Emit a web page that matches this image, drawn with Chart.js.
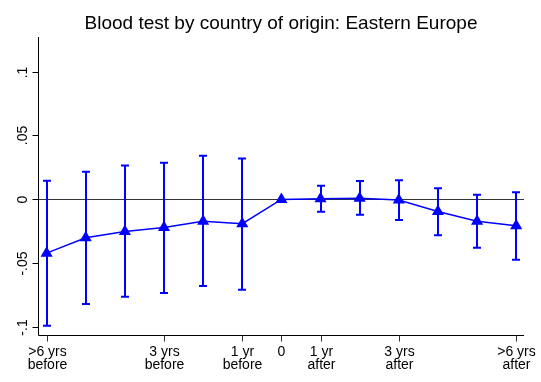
<!DOCTYPE html>
<html>
<head>
<meta charset="utf-8">
<script src="https://cdn.jsdelivr.net/npm/chart.js@4.4.1/dist/chart.umd.min.js"></script>
<style>
  html, body { margin: 0; padding: 0; background: #fff; }
  #wrap { width: 541px; height: 382px; }
</style>
</head>
<body>
<div id="wrap"><canvas id="c" width="541" height="382"></canvas></div>
<script>
// Event-study estimates: blood test, country of origin Eastern Europe
const chartTitle = 'Blood test by country of origin: Eastern Europe';
const periods = [0, 1, 2, 3, 4, 5, 6, 7, 8, 9, 10, 11, 12];
const periodLabels = [
  ['>6 yrs', 'before'], null, null, ['3 yrs', 'before'], null, ['1 yr', 'before'],
  ['0'], ['1 yr', 'after'], null, ['3 yrs', 'after'], null, null, ['>6 yrs', 'after']
];
const coef  = [-0.042, -0.030, -0.025, -0.022, -0.017, -0.019, 0, 0.0005, 0.001, -0.0005, -0.0095, -0.017, -0.0205];
const ciHigh = [0.0146, 0.0216, 0.0266, 0.0286, 0.0341, 0.0320, null, 0.0106, 0.0145, 0.0150, 0.0088, 0.0036, 0.0057];
const ciLow  = [-0.0988, -0.0818, -0.0761, -0.0732, -0.0677, -0.0706, null, -0.0097, -0.0120, -0.0160, -0.0281, -0.0378, -0.0472];
const yTicks = [-0.1, -0.05, 0, 0.05, 0.1];
const yTickText = ['-.1', '-.05', '0', '.05', '.1'];

const BLUE = '#0000ff';
const FONT = '"Liberation Sans", Arial, sans-serif';

// Axes, zero reference line, confidence-interval caps and title
const stataLook = {
  id: 'stataLook',
  beforeDatasetsDraw(chart) {
    const { ctx, chartArea: a, scales: { x, y } } = chart;
    ctx.save();
    // zero line
    const y0 = Math.round(y.getPixelForValue(0)) + 0.5;
    ctx.strokeStyle = '#333333';
    ctx.lineWidth = 1;
    ctx.beginPath();
    ctx.moveTo(a.left, y0);
    ctx.lineTo(a.right, y0);
    ctx.stroke();
    // confidence intervals
    ctx.strokeStyle = BLUE;
    ctx.lineWidth = 2;
    periods.forEach((p, i) => {
      if (ciHigh[i] == null || ciLow[i] == null) return;
      const px = Math.round(x.getPixelForValue(p));
      const top = y.getPixelForValue(ciHigh[i]);
      const bot = y.getPixelForValue(ciLow[i]);
      ctx.beginPath();
      ctx.moveTo(px, top); ctx.lineTo(px, bot);
      ctx.moveTo(px - 4, top); ctx.lineTo(px + 4, top);
      ctx.moveTo(px - 4, bot); ctx.lineTo(px + 4, bot);
      ctx.stroke();
    });
    ctx.restore();
  },
  afterDraw(chart) {
    const { ctx, chartArea: a, scales: { x, y } } = chart;
    ctx.save();
    const left = Math.round(a.left) + 0.5;
    const bottom = Math.round(a.bottom) + 0.5;
    ctx.strokeStyle = '#000';
    ctx.lineWidth = 1;
    ctx.beginPath();
    ctx.moveTo(left, a.top);
    ctx.lineTo(left, bottom);
    ctx.lineTo(a.right, bottom);
    ctx.stroke();

    // y ticks and rotated labels
    ctx.fillStyle = '#000';
    ctx.font = '14px ' + FONT;
    ctx.textAlign = 'center';
    ctx.textBaseline = 'middle';
    yTicks.forEach((v, i) => {
      const py = Math.round(y.getPixelForValue(v)) + 0.5;
      ctx.beginPath();
      ctx.moveTo(left - 6, py); ctx.lineTo(left, py);
      ctx.stroke();
      ctx.save();
      ctx.translate(23, py);
      ctx.rotate(-Math.PI / 2);
      ctx.fillText(yTickText[i], 0, 0);
      ctx.restore();
    });

    // x ticks and two-line labels
    ctx.strokeStyle = '#333';
    periods.forEach((p, i) => {
      const lab = periodLabels[i];
      if (!lab) return;
      const px = Math.round(x.getPixelForValue(p)) + 0.5;
      ctx.beginPath();
      ctx.moveTo(px, bottom); ctx.lineTo(px, bottom + 6);
      ctx.stroke();
      lab.forEach((t, k) => ctx.fillText(t, px, 352 + k * 13));
    });

    // title
    ctx.font = '19px ' + FONT;
    ctx.textBaseline = 'alphabetic';
    ctx.fillText(chartTitle, (a.left + a.right) / 2, 29);
    ctx.restore();
  }
};

new Chart(document.getElementById('c'), {
  type: 'line',
  data: {
    datasets: [{
      data: periods.map((p, i) => ({ x: p, y: coef[i] })),
      borderColor: BLUE,
      backgroundColor: BLUE,
      borderWidth: 1.5,
      pointStyle: 'triangle',
      pointRadius: 7,
      pointBorderWidth: 0,
      pointBackgroundColor: BLUE,
      tension: 0
    }]
  },
  options: {
    responsive: false,
    animation: false,
    devicePixelRatio: 1,
    layout: { padding: { left: 38, top: 37, right: 17, bottom: 47 } },
    plugins: { legend: { display: false }, title: { display: false }, tooltip: { enabled: false } },
    scales: {
      x: { type: 'linear', display: false, min: -0.22, max: 12.2 },
      y: { type: 'linear', display: false, min: -0.106, max: 0.127 }
    }
  },
  plugins: [stataLook]
});
</script>
</body>
</html>
